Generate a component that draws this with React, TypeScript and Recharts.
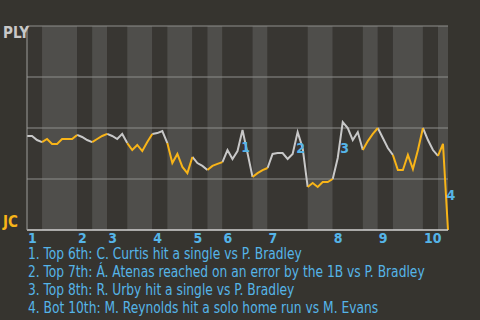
import React from "react";
import { LineChart, Line, XAxis, YAxis, ReferenceArea, ReferenceLine } from "recharts";

// plate appearances in each half inning, top 1st .. bottom 10th
const halfInningPAs = [3, 7, 3, 3, 4, 5, 3, 5, 3, 3, 6, 3, 8, 5, 6, 3, 3, 6, 3, 2];

// PLY win probability after each plate appearance (index 0 = first pitch)
const winProb = [
  0.461, 0.461, 0.441, 0.431, 0.446, 0.422, 0.422, 0.446, 0.446, 0.446,
  0.466, 0.456, 0.441, 0.431, 0.446, 0.461, 0.471, 0.461, 0.446, 0.471,
  0.426, 0.392, 0.417, 0.387, 0.431, 0.471, 0.475, 0.485, 0.426, 0.328,
  0.373, 0.309, 0.279, 0.358, 0.328, 0.314, 0.294, 0.314, 0.324, 0.333,
  0.392, 0.348, 0.387, 0.49, 0.377, 0.26, 0.279, 0.294, 0.304, 0.373,
  0.377, 0.377, 0.348, 0.373, 0.48, 0.402, 0.211, 0.23, 0.211, 0.235,
  0.235, 0.25, 0.353, 0.529, 0.5, 0.441, 0.48, 0.392, 0.436, 0.471,
  0.5, 0.451, 0.402, 0.368, 0.294, 0.294, 0.368, 0.299, 0.392, 0.5,
  0.441, 0.392, 0.363, 0.422, 0,
];

const inningLabels = ["1", "2", "3", "4", "5", "6", "7", "8", "9", "10"];

const noteMarks = ["1", "2", "3", "4"];
const notePAs = [43, 54, 63, 84];
const notes = [
  "1. Top 6th: C. Curtis hit a single vs P. Bradley",
  "2. Top 7th: Á. Atenas reached on an error by the 1B vs P. Bradley",
  "3. Top 8th: R. Urby hit a single vs P. Bradley",
  "4. Bot 10th: M. Reynolds hit a solo home run vs M. Evans",
];

const BG = "#36342f";
const DARK = "#383632";
const LIGHT = "#4f4e4b";
const GRID = "#8e8e8c";
const GRAY = "#c8c8c8";
const ORANGE = "#f8b418";
const BLUE = "#55b4e8";
const FONT = '"DejaVu Sans Condensed", "DejaVu Sans", sans-serif';

// label offsets (center, px) from the annotated point
const noteOffset: Record<string, [number, number]> = {
  "1": [3, 17],
  "2": [3, 16],
  "3": [2, 26],
  "4": [3, -35],
};

const bounds = halfInningPAs.reduce<number[]>((acc, n) => [...acc, acc[acc.length - 1] + n], [0]);
const lastPA = bounds[bounds.length - 1];

const inHalf = (i: number, bottom: boolean) =>
  halfInningPAs.some((_, h) => h % 2 === (bottom ? 1 : 0) && i >= bounds[h] && i <= bounds[h + 1]);

const data = winProb.map((wp, i) => ({
  pa: i,
  wp,
  ply: inHalf(i, false) ? wp : null,
  jc: inHalf(i, true) ? wp : null,
}));

const inningStarts = bounds.filter((_, h) => h % 2 === 0 && h < halfInningPAs.length);

const InningTick = (props: any) => {
  const { x, y, index } = props;
  return (
    <text x={x + 1} y={y} dy={5} textAnchor="start" fill={BLUE} fontSize={14} fontWeight="bold" fontFamily={FONT}>
      {inningLabels[index]}
    </text>
  );
};

const TeamTick = (props: any) => {
  const { y, payload } = props;
  const top = payload.value === 1;
  return (
    <text x={3} y={top ? y + 12 : y - 3} fill={top ? GRAY : ORANGE} fontSize={15} fontWeight="bold" fontFamily={FONT}>
      {top ? "PLY" : "JC"}
    </text>
  );
};

const NoteDot = (props: any) => {
  const { cx, cy, index } = props;
  const k = notePAs.indexOf(index);
  if (k < 0) return <g key={index} />;
  const mark = noteMarks[k];
  const [dx, dy] = noteOffset[mark];
  return (
    <text key={index} x={cx + dx} y={cy + dy + 5} textAnchor="middle" fill={BLUE} fontSize={14} fontWeight="bold" fontFamily={FONT}>
      {mark}
    </text>
  );
};

export default function App() {
  return (
    <div style={{ width: 480, height: 320, background: BG, position: "relative", overflow: "hidden" }}>
      <style>{"body{margin:0}"}</style>
      <LineChart width={480} height={250} data={data} margin={{ top: 26, right: 32, bottom: 0, left: 0 }}>
        {halfInningPAs.map((_, h) => (
          <ReferenceArea
            key={"band" + h}
            x1={bounds[h]}
            x2={bounds[h + 1]}
            y1={0}
            y2={1}
            fill={h % 2 ? LIGHT : DARK}
            fillOpacity={1}
            stroke="none"
          />
        ))}
        {[0.25, 0.5, 0.75, 1].map((v) => (
          <ReferenceLine key={"g" + v} y={v} stroke={GRID} strokeWidth={1} />
        ))}
        <XAxis
          type="number"
          dataKey="pa"
          domain={[0, lastPA]}
          ticks={inningStarts}
          interval={0}
          height={20}
          tickLine={false}
          axisLine={{ stroke: "#d2d2d2", strokeWidth: 1.5 }}
          tick={<InningTick />}
        />
        <YAxis
          type="number"
          domain={[0, 1]}
          ticks={[0, 1]}
          width={27}
          tickLine={false}
          axisLine={{ stroke: "#9c9c9a" }}
          tick={<TeamTick />}
        />
        <Line type="linear" dataKey="ply" stroke={GRAY} strokeWidth={2} dot={false} activeDot={false} connectNulls={false} isAnimationActive={false} />
        <Line type="linear" dataKey="jc" stroke={ORANGE} strokeWidth={2} dot={false} activeDot={false} connectNulls={false} isAnimationActive={false} />
        <Line type="linear" dataKey="wp" stroke="none" dot={<NoteDot />} activeDot={false} isAnimationActive={false} />
      </LineChart>
      <div
        style={{
          position: "absolute",
          left: 28,
          top: 245,
          color: BLUE,
          fontFamily: FONT,
          fontSize: 15.5,
          lineHeight: "18px",
          whiteSpace: "nowrap",
          transform: "scaleX(0.88)",
          transformOrigin: "0 0",
        }}
      >
        {notes.map((n) => (
          <div key={n}>{n}</div>
        ))}
      </div>
    </div>
  );
}
